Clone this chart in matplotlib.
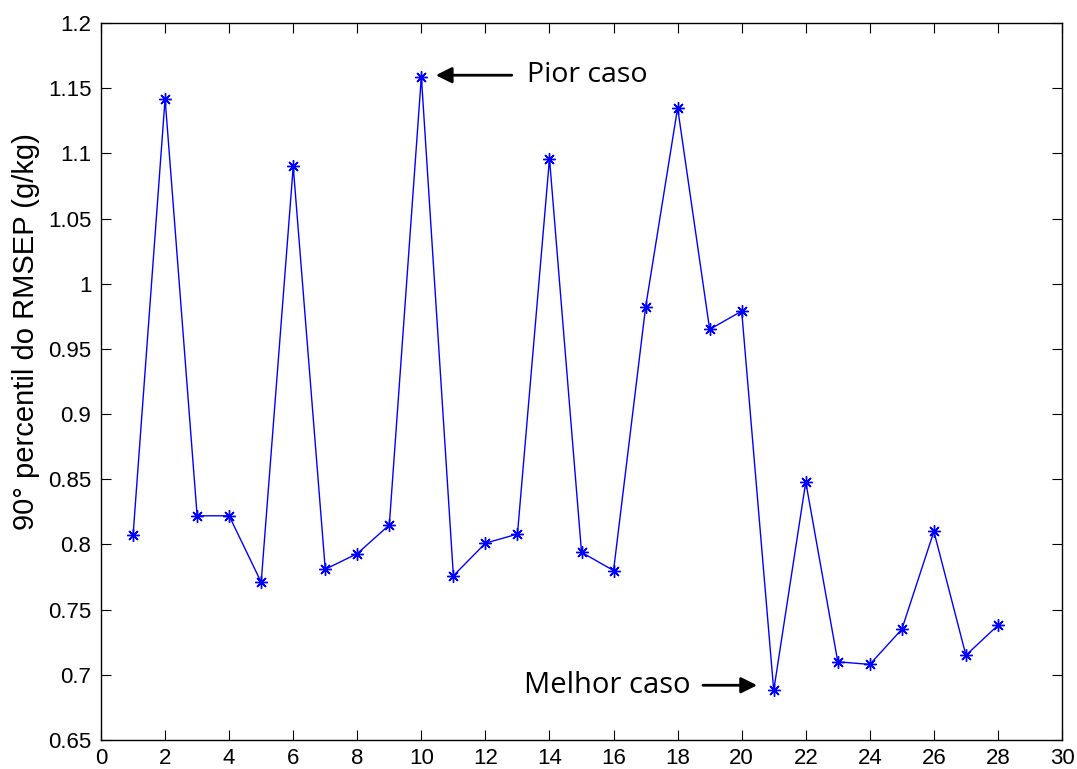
import matplotlib
matplotlib.use("Agg")
import matplotlib.pyplot as plt
import numpy as np

x_vals = list(range(1, 29))
rmsep90 = [0.807, 1.142, 0.822, 0.822, 0.771, 1.090, 0.781, 0.793, 0.815, 1.159,
           0.776, 0.801, 0.808, 1.096, 0.794, 0.780, 0.982, 1.135, 0.965, 0.979,
           0.688, 0.848, 0.710, 0.708, 0.735, 0.810, 0.715, 0.738]
x_ticks = list(range(0, 31, 2))
y_ticks = [0.65, 0.7, 0.75, 0.8, 0.85, 0.9, 0.95, 1.0, 1.05, 1.1, 1.15, 1.2]
y_ticklabels = ["0.65", "0.7", "0.75", "0.8", "0.85", "0.9", "0.95", "1", "1.05", "1.1", "1.15", "1.2"]

plt.rcParams['font.family'] = ['Liberation Sans', 'DejaVu Sans']

fig = plt.figure(figsize=(10.77, 7.69), dpi=100)
ax = fig.add_axes([0.0938, 0.0377, 0.8923, 0.9323])

ax.plot(x_vals, rmsep90, color='#0000ff', linewidth=1.0, marker=(8, 2, 0), markersize=9,
        markeredgewidth=1.0, markeredgecolor='#0000ff')

ax.set_xlim(0, 30)
ax.set_ylim(0.65, 1.2)
ax.set_xticks(x_ticks)
ax.set_yticks(y_ticks)
ax.set_yticklabels(y_ticklabels)
ax.tick_params(direction='in', top=True, right=True, length=7, width=0.8,
               labelsize=16)
ax.tick_params(axis='y', pad=7)
ax.tick_params(axis='x', pad=6)
for s in ax.spines.values():
    s.set_linewidth(1.0)

fig.text(26 / 1077, (769 - 332) / 769, "90° percentil do RMSEP (g/kg)", rotation=90,
         fontsize=21, ha='center', va='center')

ann_font = ['Open Sans', 'DejaVu Sans']
ax.annotate("Pior caso", xy=(10.45, 1.160), xytext=(13.3, 1.160),
            fontsize=20.5, family=ann_font, va='center', ha='left',
            arrowprops=dict(arrowstyle='-|>', color='black', lw=2,
                            mutation_scale=24, shrinkA=9, shrinkB=0))
ax.annotate("Melhor caso", xy=(20.48, 0.692), xytext=(18.4, 0.692),
            fontsize=21, family=ann_font, va='center', ha='right',
            arrowprops=dict(arrowstyle='-|>', color='black', lw=2,
                            mutation_scale=24, shrinkA=7, shrinkB=0))

fig.savefig("out.png", dpi=100)
